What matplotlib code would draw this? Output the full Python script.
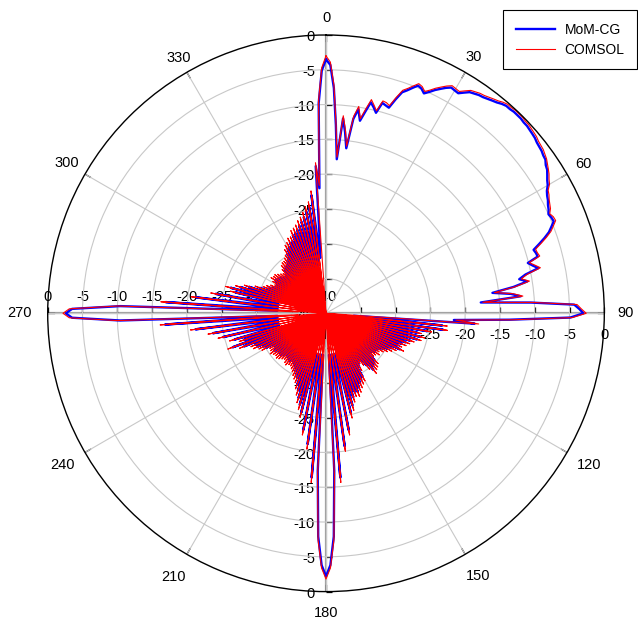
import numpy as np
import matplotlib
matplotlib.use("Agg")
import matplotlib.pyplot as plt
from matplotlib.markers import TICKRIGHT, TICKUP

plt.rcParams['font.family'] = ['Liberation Sans', 'DejaVu Sans']

# ---- data (dB, one sample per degree, clockwise from north) ----
mom_q1 = [-3.5, -4.3, -7.6, -12.9, -17.8, -11.9, -13.8, -16.1, -11.8, -10.3,
          -11.9, -10.5, -9.0, -9.6, -10.3, -8.7, -8.9, -9.1, -7.7, -6.4,
          -5.9, -5.3, -4.7, -4.9, -5.4, -4.9, -4.3, -3.8, -3.3, -2.9,
          -3.0, -3.1, -2.6, -2.1, -1.9, -1.7, -1.6, -1.4, -1.2, -1.0,
          -0.7, -0.5, -0.5, -0.4, -0.4, -0.4, -0.5, -0.5, -0.6, -0.7,
          -0.8, -1.0, -1.1, -1.2, -1.4, -1.5, -1.9, -2.1, -2.5, -2.9,
          -3.2, -3.7, -4.0, -4.2, -4.5, -4.7, -5.0, -4.8, -4.7, -5.3,
          -5.9, -6.8, -7.8, -8.8, -8.6, -8.5, -10.1, -9.5, -8.8, -10.8,
          -11.8, -10.7, -12.8, -15.9, -13.3, -11.9, -17.7, -10.5, -4.3, -3.6]
mom_q2 = [-3.0, -4.9, -13.6, -21.6, -18.6, -36, -23.2, -36, -23.0, -36,
          -25.2, -36, -26.6, -36.5, -26.0, -36.5, -26.4, -37, -27.3, -37,
          -27.8, -37, -28.3, -37, -28.7, -37, -28.2, -37, -29.3, -37,
          -29.8, -37, -30.3, -37, -30.8, -37, -31.3, -37, -31.0, -37,
          -31.4, -37, -31.5, -37, -30.3, -37, -30.0, -37, -29.8, -37,
          -29.4, -37, -30.5, -37, -31.5, -37, -32.0, -37, -31.0, -37,
          -29.5, -36, -29.2, -36, -28.8, -36, -28.3, -35, -27.8, -35,
          -28.0, -35, -27.3, -34, -26.2, -34, -25.2, -34, -34, -22.9,
          -34, -34, -20.7, -34, -34, -16.3, -34, -17.3, -7.9, -3.8]
mom_q3 = [-2.2, -3.8, -7.9, -17.3, -34, -16.3, -34, -34, -21.0, -34,
          -34, -22.9, -34, -34, -25.3, -34, -26.3, -35, -27.2, -35,
          -28.2, -35, -29.0, -36, -29.8, -36, -30.2, -36, -30.6, -36,
          -31.0, -36, -31.3, -36, -31.6, -36, -31.6, -36, -31.3, -36,
          -31.5, -36, -31.8, -36, -31.6, -36, -31.3, -36, -31.1, -36,
          -31.3, -36, -31.1, -36, -30.8, -36, -31.1, -35, -31.2, -35,
          -30.1, -35, -29.8, -34, -29.1, -34, -28.9, -34, -27.3, -34,
          -25.7, -34, -27.6, -33, -26.3, -33, -33, -24.8, -33, -33,
          -23.5, -33, -33, -21.1, -33, -33, -16.8, -33, -10.4, -3.5]
mom_q4 = [-2.6, -3.5, -10.4, -33, -16.9, -33, -33, -21.2, -33, -33,
          -23.9, -33, -33, -26.6, -34, -25.8, -34, -27.1, -34, -28.3,
          -34, -29.8, -35, -30.9, -35, -31.3, -35, -31.8, -35, -32.3,
          -35, -31.8, -35, -31.3, -35, -31.5, -35, -31.5, -35, -31.8,
          -35, -32.1, -35, -32.3, -35, -31.8, -35, -31.3, -35, -31.1,
          -35, -31.1, -35, -30.8, -35, -30.5, -35, -29.8, -35, -29.3,
          -35, -29.1, -35, -28.6, -35, -28.6, -34, -27.8, -34, -27.6,
          -34, -27.3, -34, -26.8, -34, -26.4, -34, -25.8, -34, -25.1,
          -33, -24.5, -33, -22.9, -32, -30, -18.8, -22.0, -9.8, -5.1]

comsol_q1 = [-3.0, -3.9, -7.2, -12.6, -17.5, -11.5, -13.4, -15.8, -11.4, -9.9,
             -11.6, -10.1, -8.6, -9.3, -10.0, -8.4, -8.5, -8.8, -7.4, -6.1,
             -5.6, -5.0, -4.4, -4.6, -5.1, -4.6, -4.0, -3.5, -3.0, -2.6,
             -2.7, -2.8, -2.3, -1.8, -1.6, -1.4, -1.3, -1.1, -0.9, -0.7,
             -0.4, -0.2, -0.2, -0.1, -0.1, -0.1, -0.2, -0.2, -0.3, -0.4,
             -0.5, -0.7, -0.8, -0.9, -1.1, -1.3, -1.6, -1.9, -2.2, -2.6,
             -2.9, -3.5, -3.7, -4.0, -4.2, -4.4, -4.8, -4.5, -4.4, -5.0,
             -5.6, -6.5, -7.5, -8.5, -8.4, -8.2, -9.9, -9.2, -8.5, -10.5,
             -11.5, -10.4, -12.5, -15.6, -13.0, -11.6, -17.4, -10.2, -3.9, -3.3]
comsol_q2 = [-2.6, -4.6, -13.2, -21.3, -18.0, -40, -22.5, -40, -22.4, -40,
             -24.6, -40, -26.0, -40, -25.4, -40, -25.8, -40, -26.7, -40,
             -27.2, -40, -27.6, -40, -28.1, -40, -27.6, -40, -28.6, -40,
             -29.1, -40, -29.6, -40, -30.1, -40, -30.6, -40, -30.3, -40,
             -30.7, -40, -30.8, -40, -29.6, -40, -29.3, -40, -29.1, -40,
             -28.7, -40, -29.8, -40, -30.8, -40, -31.3, -40, -30.3, -40,
             -28.8, -40, -28.5, -40, -28.1, -40, -27.6, -40, -27.1, -40,
             -27.3, -40, -26.6, -40, -25.5, -40, -24.5, -40, -40, -22.2,
             -40, -40, -20.0, -40, -40, -15.6, -40, -16.8, -7.4, -3.4]
comsol_q3 = [-1.8, -3.4, -7.4, -16.8, -40, -15.6, -40, -40, -20.3, -40,
             -40, -22.2, -40, -40, -24.6, -40, -25.6, -40, -26.5, -40,
             -27.5, -40, -28.3, -40, -29.1, -40, -29.5, -40, -29.9, -40,
             -30.3, -40, -30.6, -40, -30.9, -40, -30.9, -40, -30.6, -40,
             -30.8, -40, -31.1, -40, -30.9, -40, -30.6, -40, -30.4, -40,
             -30.6, -40, -30.4, -40, -30.1, -40, -30.4, -40, -30.5, -40,
             -29.4, -40, -29.1, -40, -28.4, -40, -28.2, -40, -26.6, -40,
             -25.0, -40, -26.9, -40, -25.6, -40, -40, -24.1, -40, -40,
             -22.8, -40, -40, -20.4, -40, -40, -16.1, -36, -10.0, -3.1]
comsol_q4 = [-2.2, -3.1, -10.0, -36, -16.2, -40, -40, -20.5, -40, -40,
             -23.2, -40, -40, -25.9, -40, -25.1, -40, -26.4, -40, -27.6,
             -40, -29.1, -40, -30.2, -40, -30.6, -40, -31.1, -40, -31.6,
             -40, -31.1, -40, -30.6, -40, -30.8, -40, -30.8, -40, -31.1,
             -40, -31.4, -40, -31.6, -40, -31.1, -40, -30.6, -40, -30.4,
             -40, -30.4, -40, -30.1, -40, -29.8, -40, -29.1, -40, -28.6,
             -40, -28.4, -40, -27.9, -40, -27.9, -40, -27.1, -40, -26.9,
             -40, -26.6, -40, -26.1, -40, -25.7, -40, -25.1, -40, -24.4,
             -40, -23.8, -40, -22.3, -40, -40, -18.3, -21.6, -9.4, -4.7]

ring_levels = [0, -5, -10, -15, -20, -25, -30, -35, -40]
angle_ticks = [0, 30, 60, 90, 120, 150, 180, 210, 240, 270, 300, 330]
series_names = ['MoM-CG', 'COMSOL']

mom = np.array(mom_q1 + mom_q2 + mom_q3 + mom_q4)
comsol = np.array(comsol_q1 + comsol_q2 + comsol_q3 + comsol_q4)
theta = np.deg2rad(np.arange(len(mom) + 1))
mom = np.append(mom, mom[0])
comsol = np.append(comsol, comsol[0])

fig = plt.figure(figsize=(6.38, 6.20), dpi=100)
R = 278.3
ax = fig.add_axes([(326 - R) / 638, (620 - 313.3 - R) / 620, 2 * R / 638, 2 * R / 620],
                  projection='polar')
ax.set_theta_zero_location('N')
ax.set_theta_direction(-1)
ax.set_ylim(-40, 0)
ax.set_yticks(ring_levels[1:-1])
ax.set_yticklabels([])
ax.set_xticks(np.deg2rad(angle_ticks))
ax.set_xticklabels([])
ax.tick_params(length=0)
ax.grid(True, color='#c8c8c8', lw=0.8)
ax.spines['polar'].set_color('black')
ax.spines['polar'].set_linewidth(1.0)

# main axes, darker
for a in [0, 90, 180, 270]:
    ax.plot([np.deg2rad(a)] * 2, [-40, 0], color='#a0a0a0', lw=1.6, zorder=1)
# small ticks on the main axes and the outer circle
for a in [0, 180]:
    ax.plot([np.deg2rad(a)] * 8, ring_levels[:-1], ls='none', marker=TICKRIGHT,
            ms=4, mew=0.9, color='black', zorder=1.5, clip_on=False)
for a in [90, 270]:
    ax.plot([np.deg2rad(a)] * 8, ring_levels[:-1], ls='none', marker=TICKUP,
            ms=4, mew=0.9, color='black', zorder=1.5, clip_on=False)
for a in angle_ticks:
    ax.plot([np.deg2rad(a)] * 2, [-0.9, 0], color='black', lw=0.9, zorder=1.5)

# radial labels on the four main axes
for v in ring_levels:
    s = '%d' % v
    for a in [0, 180]:
        ax.annotate(s, xy=(np.deg2rad(a), v), xytext=(-8, -1.5), textcoords='offset points',
                    ha='right', va='center', fontsize=10.5, zorder=1, annotation_clip=False)
    ax.annotate(s, xy=(np.deg2rad(270), v), xytext=(0, 12), textcoords='offset points',
                ha='center', va='center', fontsize=10.5, zorder=1, annotation_clip=False)
    ax.annotate(s, xy=(np.deg2rad(90), v), xytext=(0, -15.5), textcoords='offset points',
                ha='center', va='center', fontsize=10.5, zorder=1, annotation_clip=False)

# angle labels outside the circle
label_r = [2.5, 2.5, 2.8, 3.1, 3.7, 3.6, 3.1, 3.7, 3.7, 4.0, 3.1, 2.3]
for a, rr in zip(angle_ticks, label_r):
    ax.text(np.deg2rad(a), rr, str(a), ha='center', va='center', fontsize=10.5,
            clip_on=False)

l1, = ax.plot(theta, mom, color='#0000ff', lw=1.7, zorder=2, label=series_names[0])
l2, = ax.plot(theta, comsol, color='#ff0000', lw=0.8, zorder=2.1, label=series_names[1])

leg = fig.legend(handles=[l1, l2], loc='upper right', bbox_to_anchor=(637 / 638, 1 - 10 / 620),
                 fontsize=10, frameon=True, fancybox=False, edgecolor='black', framealpha=1,
                 handlelength=2.8, handletextpad=0.7, borderpad=0.9, labelspacing=0.45,
                 borderaxespad=0)
leg.get_frame().set_linewidth(0.8)

fig.savefig('out.png', dpi=100)
